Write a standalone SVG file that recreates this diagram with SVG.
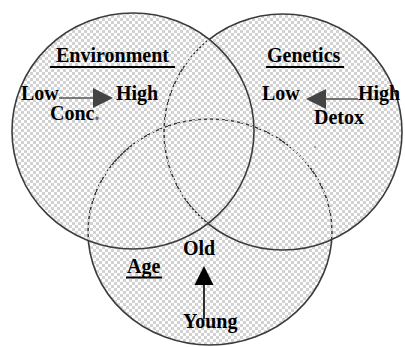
<svg xmlns="http://www.w3.org/2000/svg" width="405" height="347" viewBox="0 0 405 347">
<defs>
<pattern id="chk" x="0" y="0" width="6" height="6" patternUnits="userSpaceOnUse">
<rect x="0" y="0" width="3" height="3" fill="#d2d2d2"/>
<rect x="3" y="3" width="3" height="3" fill="#d2d2d2"/>
</pattern>
<marker id="headGray" viewBox="0 0 10 10" refX="0" refY="5" markerWidth="20" markerHeight="20" markerUnits="userSpaceOnUse" orient="auto">
<path d="M0,0 L10,5 L0,10 Z" fill="#444"/>
</marker>
<marker id="headBlack" viewBox="0 0 10 10" refX="0" refY="5" markerWidth="19" markerHeight="21" markerUnits="userSpaceOnUse" orient="auto">
<path d="M0,0 L10,5 L0,10 Z" fill="#000"/>
</marker>
</defs>
<style>
.set{fill:url(#chk);stroke:#3c3c3c;stroke-width:1.6}
.t{font-family:"Liberation Serif","Times New Roman",serif;font-weight:bold;font-size:20px;fill:#000}
.ul{stroke:#000;stroke-width:1.8}
.ag{stroke:#555;stroke-width:1.6;fill:none}
.ab{stroke:#000;stroke-width:1.6;fill:none}
</style>
<rect width="405" height="347" fill="#fff"/>
<g id="age">
<ellipse class="set" cx="210" cy="232" rx="122" ry="113"/>
<text class="t" x="127" y="273">Age</text>
<line class="ul" x1="126" y1="277.5" x2="162" y2="277.5"/>
<text class="t" x="183" y="255">Old</text>
<text class="t" x="183" y="328">Young</text>
</g>
<g id="genetics">
<ellipse class="set" cx="283" cy="132" rx="119" ry="118"/>
<text class="t" x="267" y="62">Genetics</text>
<line class="ul" x1="266" y1="67" x2="344" y2="67"/>
<text class="t" x="262" y="100">Low</text>
<text class="t" x="358" y="100">High</text>
<text class="t" x="314" y="124">Detox</text>
<circle cx="315" cy="147" r="0.7" fill="#333"/>
</g>
<g id="environment">
<ellipse class="set" cx="133" cy="131" rx="121" ry="118"/>
<text class="t" x="56" y="62">Environment</text>
<line class="ul" x1="50" y1="67" x2="175" y2="67"/>
<text class="t" x="21" y="100">Low</text>
<text class="t" x="116" y="100">High</text>
<text class="t" x="50" y="120">Conc<tspan fill="#666">.</tspan></text>
</g>
<g id="connectors">
<line class="ag" x1="59" y1="98" x2="93" y2="98" marker-end="url(#headGray)"/>
<line class="ag" x1="358" y1="99" x2="326" y2="99" marker-end="url(#headGray)"/>
<line class="ab" x1="204" y1="319" x2="204" y2="285" marker-end="url(#headBlack)"/>
</g>
</svg>
